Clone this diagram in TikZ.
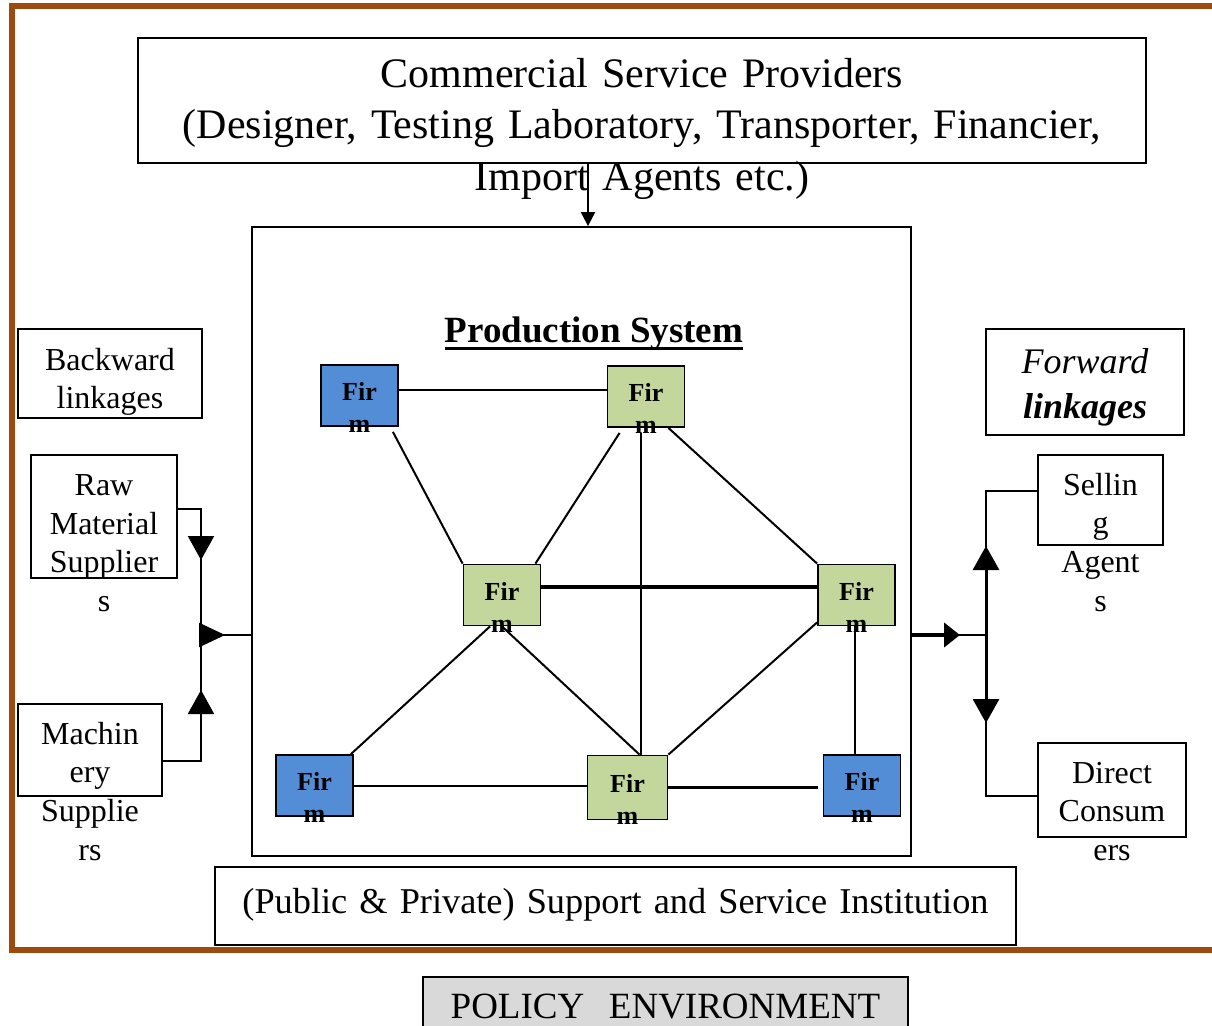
\documentclass[tikz,border=0pt]{standalone}
\usepackage{fontspec}
\setmainfont{Liberation Serif}
\usetikzlibrary{arrows.meta,calc}

\definecolor{framebrown}{RGB}{156,74,14}
\definecolor{firmblue}{RGB}{83,141,213}
\definecolor{firmgreen}{RGB}{195,214,155}
\definecolor{policygray}{RGB}{217,217,217}

\newsavebox{\ulbox}
\newcommand{\thickuline}[1]{\sbox{\ulbox}{#1}\rlap{\rule[-7.5pt]{\wd\ulbox}{3pt}}\usebox{\ulbox}}

\tikzset{
  box/.style={draw, line width=1.8pt, inner sep=0pt, align=center},
  firm/.style={box, line width=1.8pt, minimum width=77pt, minimum height=61pt, text width=77pt,
    text height=10pt, text depth=0pt, font=\fontsize{26}{32}\selectfont\bfseries},
  small/.style={font=\fontsize{32}{38.7}\selectfont},
  link/.style={line width=2pt},
}

\begin{document}
\begin{tikzpicture}[x=1pt, y=-1pt]
    \useasboundingbox (0, 0) rectangle (1212, 1025);
    \draw[framebrown, line width=6pt] (12, 6) rectangle (1240, 950);

    \node[box, minimum width=1008pt, minimum height=125pt, text width=1000pt, text height=0pt, text depth=25pt,
      font=\fontsize{42}{51}\selectfont] (com) at (642, 100.5)
      {Commercial Service Providers\\(Designer, Testing Laboratory, Transporter, Financier,\\Import Agents etc.)};

    \node[box, minimum width=659pt, minimum height=629pt] (prod) at (581.5, 541.5) {};
    \node[anchor=base, font=\fontsize{37}{44}\selectfont\bfseries] (title) at (594, 342) {\thickuline{Production System}};

    \node[firm, fill=firmblue] (f1) at (359.5, 395.5) {Fir\\m};
    \node[firm, fill=firmgreen] (f2) at (646, 396.5) {Fir\\m};
    \node[firm, fill=firmgreen] (f3) at (502, 595) {Fir\\m};
    \node[firm, fill=firmgreen] (f4) at (856.5, 595) {Fir\\m};
    \node[firm, fill=firmblue] (f5) at (314.5, 785.5) {Fir\\m};
    \node[firm, fill=firmgreen, minimum width=80pt, minimum height=64pt] (f6) at (627.5, 787.5) {Fir\\m};
    \node[firm, fill=firmblue] (f7) at (862, 785.5) {Fir\\m};

    \draw[link] ([yshift=6pt]f1.east) -- ([yshift=6pt]f1.east -| f2.west);
    \draw[link] ([xshift=-6pt, yshift=-5pt]f1.south east) -- (f3.north west);
    \draw[link] ([xshift=13pt, yshift=-5pt]f2.south west) -- ([xshift=-6pt]f3.north east);
    \draw[link] ([xshift=-5pt, yshift=-5pt]f2.south) -- ([xshift=-5pt]f2.south |- f6.north);
    \draw[link] ([xshift=-17pt]f2.south east) -- (f4.north west);
    \draw[link, line width=4pt] ([yshift=8pt]f3.east) -- ([yshift=8pt]f3.east -| f4.west);
    \draw[link] ([xshift=-12pt]f3.south) -- ([xshift=-3pt]f5.north east);
    \draw[link] (f3.south) -- ([xshift=12pt]f6.north);
    \draw[link] ([yshift=4pt]f4.south west) -- (f6.north east);
    \draw[link] ([xshift=-1.5pt]f4.south) -- ([xshift=-1.5pt]f4.south |- f7.north);
    \draw[link] (f5.east) -- (f5.east -| f6.west);
    \draw[link, line width=2.8pt] (f6.east) -- ([xshift=-5pt]f6.east -| f7.west);

    \coordinate (comout) at ([xshift=-54pt]com.south);
    \draw[link, -{Triangle[length=14pt, width=14pt]}] (comout) -- (comout |- prod.north);

    % backward linkages
    \node[box, small, minimum width=184pt, minimum height=89pt, text width=184pt, text height=0pt, text depth=7pt]
      (back) at (110, 373.5) {Backward\\linkages};
    \node[box, small, minimum width=146pt, minimum height=123pt, text width=146pt, text height=0pt, text depth=42pt]
      (raw) at (104, 516.5) {Raw\\Material\\Supplier\\s};
    \node[box, small, minimum width=144pt, minimum height=92pt, text width=144pt, text height=0pt, text depth=12pt]
      (mach) at (90, 750) {Machin\\ery\\Supplie\\rs};

    \coordinate (joinL) at (201, 635);
    \coordinate (rawout) at ([yshift=7.5pt]raw.east);
    \coordinate (machout) at ([yshift=-11pt]mach.east);
    \draw[link] (rawout) -| (joinL);
    \draw[link, -{Triangle[length=24pt, width=26pt]}, shorten >=75pt] (rawout -| joinL) -- (joinL);
    \draw[link] (machout) -| (joinL);
    \draw[link, -{Triangle[length=24pt, width=26pt]}, shorten >=55pt] (machout -| joinL) -- (joinL);
    \draw[link] (joinL) -- (joinL -| prod.west);
    \draw[link, -{Triangle[length=26pt, width=24pt]}, shorten >=26pt] (joinL) -- (joinL -| prod.west);

    % forward linkages
    \node[box, minimum width=198pt, minimum height=106pt, text width=198pt, text height=0pt, text depth=18pt,
      font=\fontsize{36}{45}\selectfont] (fwd) at (1085, 382) {\textit{Forward}\\\textbf{\textit{linkages}}};
    \node[box, small, minimum width=125pt, minimum height=90pt, text width=125pt, text height=0pt, text depth=10pt]
      (sell) at (1100.5, 500) {Sellin\\g\\Agent\\s};
    \node[box, small, minimum width=148pt, minimum height=94pt, text width=148pt, text height=0pt, text depth=14pt]
      (direct) at (1112, 790) {Direct\\Consum\\ers};

    \coordinate (joinR) at (986, 635);
    \coordinate (sellin) at ([yshift=9pt]sell.west);
    \coordinate (directin) at ([yshift=-6pt]direct.west);
    \draw[link] (joinR -| prod.east) -- (joinR);
    \draw[line width=4pt, -{Triangle[length=16pt, width=24pt]}, shorten >=26pt] (joinR -| prod.east) -- (joinR);
    \draw[link] (joinR) |- (sellin);
    \draw[line width=3pt, -{Triangle[length=24pt, width=26pt]}, shorten >=55pt] (joinR) -- (joinR |- sellin);
    \draw[link] (joinR) |- (directin);
    \draw[line width=3pt, -{Triangle[length=24pt, width=26pt]}, shorten >=73pt] (joinR) -- (joinR |- directin);

    \node[box, minimum width=801pt, minimum height=78pt, text width=801pt, text height=14pt, text depth=0pt,
      font=\fontsize{36.3}{44}\selectfont] (support) at (615.5, 906) {(Public \& Private) Support and Service Institution};
    \node[box, fill=policygray, minimum width=485pt, minimum height=63pt, text width=485pt, text height=19pt, text depth=0pt,
      font=\fontsize{37}{44}\selectfont] (policy) at (665.5, 1008.5) {POLICY\ \ ENVIRONMENT};
\end{tikzpicture}
\end{document}
